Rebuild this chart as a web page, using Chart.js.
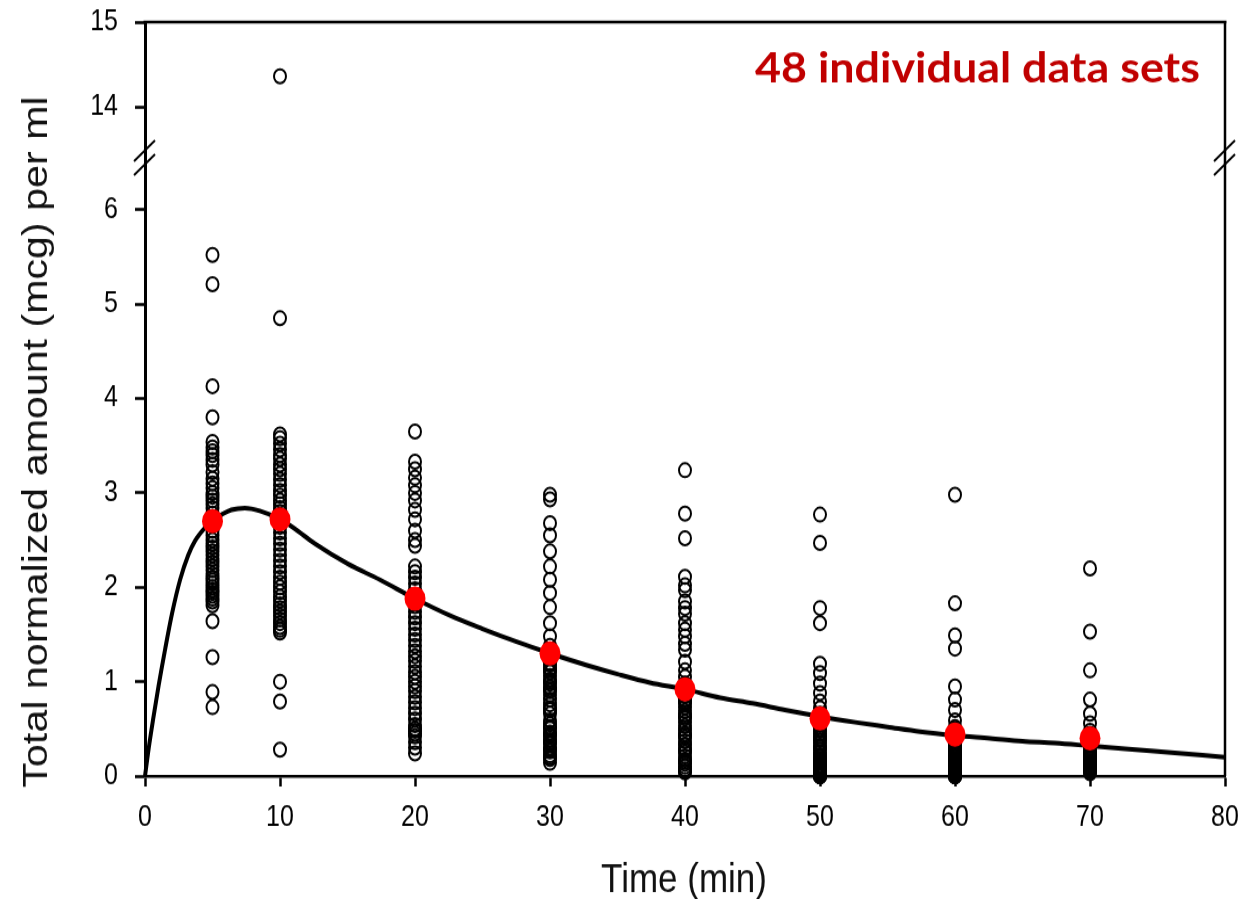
<!DOCTYPE html>
<html>
<head>
<meta charset="utf-8">
<script src="https://cdn.jsdelivr.net/npm/chart.js@4.4.1/dist/chart.umd.min.js"></script>
<style>
html { overflow: hidden; }
body { margin: 0; padding: 0; background: #fff; height: 899px; }
#wrap { width: 1258px; height: 775px; transform: scale(1, 1.16); transform-origin: 0 0; }
</style>
</head>
<body>
<div id="wrap"><canvas id="myChart" width="1258" height="775"></canvas></div>
<script>
// sampling times (min)
const times = [5, 10, 20, 30, 40, 50, 60, 70];

// individual values, one list per time
const t5 = [5.52, 5.21, 4.13, 3.80, 3.54, 3.48, 3.44, 3.40, 3.35, 3.30, 3.22, 3.15, 3.10, 3.05, 3.00, 2.96,
  2.92, 2.88, 2.84, 2.78, 2.72, 2.66, 2.60, 2.55, 2.50, 2.46, 2.42, 2.38, 2.34, 2.30, 2.26, 2.22, 2.18,
  2.14, 2.10, 2.07, 2.04, 2.00, 1.97, 1.94, 1.91, 1.88, 1.85, 1.81, 1.64, 1.26, 0.89, 0.73];
const t10 = [4.85, 3.62, 3.58, 3.52, 3.46, 3.40, 3.36, 3.30, 3.25, 3.20, 3.14, 3.08, 3.02, 2.97, 2.92, 2.88,
  2.84, 2.80, 2.76, 2.70, 2.64, 2.58, 2.52, 2.46, 2.40, 2.34, 2.28, 2.22, 2.16, 2.10, 2.05, 2.00, 1.95,
  1.90, 1.86, 1.82, 1.78, 1.74, 1.70, 1.66, 1.62, 1.58, 1.55, 1.52, 1.00, 0.79, 0.28];
const t10High = [14.36];
const t20 = [3.65, 3.33, 3.25, 3.16, 3.08, 3.00, 2.92, 2.82, 2.72, 2.60, 2.50, 2.44, 2.22, 2.16, 2.10, 2.04,
  1.98, 1.92, 1.85, 1.80, 1.74, 1.68, 1.62, 1.56, 1.50, 1.44, 1.38, 1.32, 1.27, 1.22, 1.16, 1.10, 1.05,
  1.00, 0.95, 0.90, 0.84, 0.78, 0.72, 0.66, 0.60, 0.54, 0.50, 0.48, 0.45, 0.42, 0.36, 0.30, 0.24];
const t30 = [2.98, 2.93, 2.68, 2.55, 2.38, 2.22, 2.08, 1.94, 1.79, 1.62, 1.48, 1.38, 1.32, 1.26, 1.20, 1.18,
  1.14, 1.12, 1.10, 1.06, 1.02, 1.00, 0.98, 0.94, 0.92, 0.90, 0.86, 0.81, 0.76, 0.72, 0.70, 0.66, 0.59,
  0.55, 0.52, 0.50, 0.46, 0.44, 0.42, 0.38, 0.36, 0.34, 0.30, 0.28, 0.26, 0.22, 0.20, 0.18, 0.14];
const t40 = [3.24, 2.78, 2.52, 2.11, 2.02, 1.97, 1.85, 1.78, 1.72, 1.62, 1.55, 1.48, 1.40, 1.34, 1.21, 1.12,
  1.05, 0.98, 0.94, 0.90, 0.85, 0.81, 0.79, 0.77, 0.73, 0.69, 0.65, 0.63, 0.61, 0.57, 0.53, 0.49, 0.45,
  0.43, 0.41, 0.37, 0.33, 0.29, 0.27, 0.25, 0.21, 0.17, 0.15, 0.13, 0.10, 0.07, 0.05, 0.04];
const t50 = [2.77, 2.47, 1.78, 1.62, 1.19, 1.09, 0.98, 0.88, 0.79, 0.72, 0.66, 0.60, 0.55, 0.50, 0.48, 0.45,
  0.42, 0.40, 0.38, 0.35, 0.32, 0.30, 0.28, 0.25, 0.22, 0.20, 0.18, 0.16, 0.15, 0.14, 0.12, 0.11, 0.10,
  0.09, 0.08, 0.07, 0.06, 0.05, 0.04, 0.03, 0.02, 0.02, 0.01, 0.00, 0.00, 0.00, 0.00, 0.00];
const t60 = [2.98, 1.83, 1.49, 1.35, 0.95, 0.81, 0.70, 0.59, 0.52, 0.50, 0.47, 0.44, 0.40, 0.37, 0.35, 0.33,
  0.32, 0.30, 0.29, 0.27, 0.26, 0.24, 0.23, 0.21, 0.20, 0.18, 0.17, 0.15, 0.14, 0.13, 0.12, 0.11, 0.10,
  0.09, 0.08, 0.07, 0.06, 0.05, 0.04, 0.03, 0.02, 0.01, 0.00, 0.00, 0.00, 0.00, 0.00, 0.00];
const t70 = [2.20, 1.53, 1.12, 0.81, 0.66, 0.56, 0.48, 0.45, 0.42, 0.38, 0.35, 0.33, 0.30, 0.27, 0.25, 0.24,
  0.22, 0.21, 0.20, 0.18, 0.16, 0.15, 0.14, 0.12, 0.12, 0.10, 0.09, 0.08, 0.06, 0.05, 0.03];
const individual = [t5, t10, t20, t30, t40, t50, t60, t70];

// mean values (red dots)
const meanValues = [2.70, 2.72, 1.88, 1.30, 0.92, 0.61, 0.44, 0.40];

// fitted curve
const curveTimes = [0, 0.3, 0.6, 1, 1.5, 2, 2.6, 3.2, 3.7, 4.5, 5, 5.8, 6.4, 7.4, 8.5, 10, 11, 12.6, 15,
  17.4, 20, 22.6, 25, 27.4, 30, 32.6, 35, 37.4, 40, 42.6, 45, 47.4, 50, 52.6, 55, 57.4, 60, 62.6, 65,
  67.4, 70, 72.6, 75, 80];
const curveValues = [0, 0.32, 0.60, 0.95, 1.35, 1.72, 2.08, 2.34, 2.49, 2.64, 2.71, 2.78, 2.82, 2.84, 2.81,
  2.72, 2.63, 2.46, 2.25, 2.08, 1.88, 1.70, 1.56, 1.43, 1.30, 1.18, 1.08, 0.99, 0.92, 0.83, 0.77, 0.70,
  0.63, 0.57, 0.52, 0.47, 0.43, 0.40, 0.37, 0.35, 0.32, 0.29, 0.26, 0.20];

// axis ticks
const xTicks = [0, 10, 20, 30, 40, 50, 60, 70, 80];
const yLowTicks = [0, 1, 2, 3, 4, 5, 6];
const yHighTicks = [14, 15];

const titleText = '48 individual data sets';
const xTitle = 'Time (min)';
const yTitle = 'Total normalized amount (mcg) per ml';

var pts = [];
times.forEach((t, i) => individual[i].forEach(v => pts.push({x: t, y: v})));

var tickFont = {family: '"Liberation Sans", Arial, sans-serif', size: 25};

function fixWidth(s) {
  s.width = 145;
  s.paddingTop = 0;
  s.paddingBottom = 0;
}

var framePlugin = {
  id: 'frame',
  afterDraw(chart) {
    const ctx = chart.ctx;
    const a = chart.chartArea;
    const yb = chart.scales.y2.bottom;
    ctx.save();
    ctx.strokeStyle = '#000';
    ctx.lineWidth = 2.5;
    ctx.beginPath();
    ctx.moveTo(a.left - 1.5, a.top);
    ctx.lineTo(a.right + 1.5, a.top);
    ctx.moveTo(a.right, a.top);
    ctx.lineTo(a.right, a.bottom);
    ctx.stroke();

    // axis break marks
    ctx.lineWidth = 2;
    [a.left, a.right].forEach(x => {
      [-6, 6].forEach(dy => {
        ctx.beginPath();
        ctx.moveTo(x - 11, yb + dy + 9);
        ctx.lineTo(x + 10, yb + dy - 9);
        ctx.stroke();
      });
    });

    // texts
    ctx.fillStyle = '#111';
    ctx.font = '35px "Liberation Sans", Arial, sans-serif';
    ctx.textAlign = 'center';
    ctx.textBaseline = 'alphabetic';
    ctx.fillText(xTitle, 684, 769);

    ctx.save();
    ctx.font = '35.5px "Liberation Sans", Arial, sans-serif';
    ctx.translate(47, 381);
    ctx.rotate(-Math.PI / 2);
    ctx.fillText(yTitle, 0, 0);
    ctx.restore();

    ctx.fillStyle = '#c00000';
    ctx.font = 'bold 36px Lato, "Open Sans", sans-serif';
    ctx.textAlign = 'left';
    var w = ctx.measureText(titleText).width;
    ctx.translate(755, 70.7);
    ctx.scale(445 / w, 1);
    ctx.fillText(titleText, 0, 0);
    ctx.restore();
  }
};

var ctx = document.getElementById('myChart').getContext('2d');
var myChart = new Chart(ctx, {
  type: 'scatter',
  data: {
    datasets: [{
      label: 'Mean',
      data: times.map((t, i) => ({x: t, y: meanValues[i]})),
      pointRadius: 10.5,
      pointBorderWidth: 0,
      pointBackgroundColor: '#ff0000',
      pointBorderColor: '#ff0000',
      clip: false,
      order: 0
    }, {
      label: 'Fit',
      data: curveTimes.map((t, i) => ({x: t, y: curveValues[i]})),
      showLine: true,
      pointRadius: 0,
      borderColor: '#000',
      borderWidth: 4,
      cubicInterpolationMode: 'monotone',
      clip: false,
      order: 1
    }, {
      label: 'Individual',
      data: pts,
      pointRadius: 6,
      pointBorderWidth: 2,
      pointBorderColor: '#000',
      pointBackgroundColor: 'rgba(0,0,0,0)',
      clip: false,
      order: 2
    }, {
      label: 'Individual high',
      data: times.slice(1, 2).map(t => ({x: t, y: t10High[0]})),
      yAxisID: 'y2',
      pointRadius: 6,
      pointBorderWidth: 2,
      pointBorderColor: '#000',
      pointBackgroundColor: 'rgba(0,0,0,0)',
      clip: false,
      order: 2
    }]
  },
  options: {
    responsive: false,
    animation: false,
    events: [],
    layout: { padding: { left: 0, top: 19, right: 33, bottom: 0 } },
    plugins: { legend: { display: false }, tooltip: { enabled: false } },
    scales: {
      x: {
        type: 'linear',
        min: 0, max: 80,
        afterBuildTicks: s => { s.ticks = xTicks.map(v => ({value: v})); },
        afterFit: s => { s.height = 106; },
        border: { display: true, color: '#000', width: 2.5 },
        grid: { drawOnChartArea: false, drawTicks: true, tickLength: 9, tickWidth: 2.5, tickColor: '#000' },
        ticks: { font: tickFont, color: '#000', padding: 12, maxRotation: 0 }
      },
      y: {
        type: 'linear',
        position: 'left',
        stack: 'left',
        stackWeight: 533,
        min: 0, max: 6.55,
        afterBuildTicks: s => { s.ticks = yLowTicks.map(v => ({value: v})); },
        afterFit: fixWidth,
        border: { display: true, color: '#000', width: 3 },
        grid: { drawOnChartArea: false, drawTicks: true, tickLength: 10, tickWidth: 2.6, tickColor: '#000' },
        ticks: { font: tickFont, color: '#000', padding: 17 }
      },
      y2: {
        type: 'linear',
        position: 'left',
        stack: 'left',
        stackWeight: 117,
        min: 13.40, max: 15,
        afterBuildTicks: s => { s.ticks = yHighTicks.map(v => ({value: v})); },
        afterFit: fixWidth,
        border: { display: true, color: '#000', width: 3 },
        grid: { drawOnChartArea: false, drawTicks: true, tickLength: 10, tickWidth: 2.6, tickColor: '#000' },
        ticks: { font: tickFont, color: '#000', padding: 17 }
      }
    }
  },
  plugins: [framePlugin]
});
</script>
</body>
</html>
